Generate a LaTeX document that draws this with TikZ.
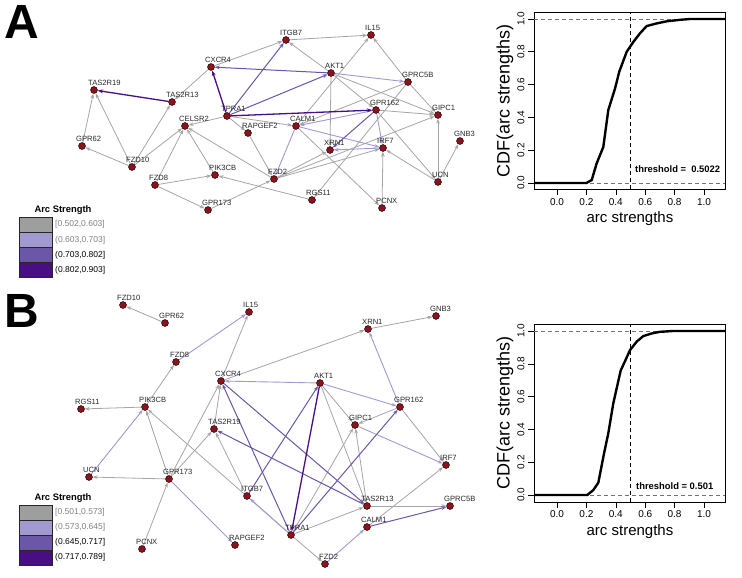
\documentclass[tikz,border=0pt]{standalone}
\usepackage{fontspec}
\setmainfont{Liberation Sans}
\usepackage{graphicx}
\usetikzlibrary{arrows.meta,backgrounds}
\definecolor{genered}{RGB}{140,18,28}
\definecolor{arcgray}{RGB}{165,165,165}
\definecolor{arclav}{RGB}{160,154,208}
\definecolor{arcpurp}{RGB}{108,86,168}
\definecolor{arcdark}{RGB}{72,14,132}
\definecolor{boxgray}{RGB}{158,158,158}
\tikzset{
  gene/.style={circle,draw=black,line width=0.4pt,fill=genered,inner sep=0pt,minimum size=7pt},
  genelbl/.style={anchor=base west,xshift=-6pt,yshift=0.5pt,inner sep=0pt,text=black!85,
    font=\fontsize{7.6}{8}\selectfont},
  arcg/.style={draw=arcgray,line width=0.8pt,-{Stealth[length=5pt,width=3.6pt]}},
  arcl/.style={draw=arclav,line width=0.9pt,-{Stealth[length=5pt,width=3.6pt]}},
  arcp/.style={draw=arcpurp,line width=1.0pt,-{Stealth[length=5pt,width=3.8pt]}},
  arcd/.style={draw=arcdark,line width=1.3pt,-{Stealth[length=5.5pt,width=4pt]}},
  lgbox/.style={draw=black!85,line width=1pt},
  lgtxt/.style={anchor=west,inner sep=0pt,font=\fontsize{8.5}{10}\selectfont},
  lgtitle/.style={inner sep=0pt,font=\bfseries\fontsize{9.4}{11}\selectfont},
  ticklbl/.style={inner sep=0pt,font=\fontsize{10}{11}\selectfont},
  panel/.style={inner sep=0pt,font=\bfseries\fontsize{48}{50}\selectfont}
}
\begin{document}
\begin{tikzpicture}[x=1pt,y=-1pt]
  \useasboundingbox (0,0) rectangle (742,578);

  \node[panel] (A) at (22,22) {A};
  \node[panel] (B) at (22,311) {B};

  % network A
  \node[gene,label={[genelbl]north:TAS2R19}] (aTAS2R19) at (94,90) {};
  \node[gene,label={[genelbl]north:TAS2R13}] (aTAS2R13) at (172,102) {};
  \node[gene,label={[genelbl]north:CXCR4}] (aCXCR4) at (211,67) {};
  \node[gene,label={[genelbl]north:TPRA1}] (aTPRA1) at (227,116) {};
  \node[gene,label={[genelbl]north:CELSR2}] (aCELSR2) at (185,126) {};
  \node[gene,label={[genelbl]north:ITGB7}] (aITGB7) at (286,40) {};
  \node[gene,label={[genelbl]north:IL15}] (aIL15) at (371,35) {};
  \node[gene,label={[genelbl]north:AKT1}] (aAKT1) at (331,73) {};
  \node[gene,label={[genelbl]north:GPRC5B}] (aGPRC5B) at (408,82) {};
  \node[gene,label={[genelbl]north:GPR162}] (aGPR162) at (376,110) {};
  \node[gene,label={[genelbl]north:GIPC1}] (aGIPC1) at (438,115) {};
  \node[gene,label={[genelbl]north:CALM1}] (aCALM1) at (296,126) {};
  \node[gene,label={[genelbl]north:RAPGEF2}] (aRAPGEF2) at (248,133) {};
  \node[gene,label={[genelbl]north:GPR62}] (aGPR62) at (82,146) {};
  \node[gene,label={[genelbl]north:FZD10}] (aFZD10) at (132,167) {};
  \node[gene,label={[genelbl]north:FZD8}] (aFZD8) at (155,185) {};
  \node[gene,label={[genelbl]north:PIK3CB}] (aPIK3CB) at (215,175) {};
  \node[gene,label={[genelbl]north:GPR173}] (aGPR173) at (208,210) {};
  \node[gene,label={[genelbl]north:FZD2}] (aFZD2) at (274,179) {};
  \node[gene,label={[genelbl]north:XRN1}] (aXRN1) at (330,150) {};
  \node[gene,label={[genelbl]north:IRF7}] (aIRF7) at (383,148) {};
  \node[gene,label={[genelbl]north:GNB3}] (aGNB3) at (460,141) {};
  \node[gene,label={[genelbl]north:UCN}] (aUCN) at (438,182) {};
  \node[gene,label={[genelbl]north:RGS11}] (aRGS11) at (312,200) {};
  \node[gene,label={[genelbl]north:PCNX}] (aPCNX) at (382,208) {};

  \begin{pgfonlayer}{background}
    \draw[arcg] (aFZD10) to (aGPR62);
    \draw[arcg] (aGPR62) to (aTAS2R19);
    \draw[arcg] (aFZD10) to (aTAS2R19);
    \draw[arcg] (aFZD10) to (aTAS2R13);
    \draw[arcg] (aFZD10) to (aCELSR2);
    \draw[arcg] (aFZD8) to (aCELSR2);
    \draw[arcg] (aPIK3CB) to (aCELSR2);
    \draw[arcg] (aFZD2) to (aCELSR2);
    \draw[arcg] (aTPRA1) to (aCELSR2);
    \draw[arcg] (aFZD8) to (aPIK3CB);
    \draw[arcg] (aFZD8) to (aGPR173);
    \draw[arcg] (aGPR173) to (aFZD2);
    \draw[arcg] (aRGS11) to (aPIK3CB);
    \draw[arcg] (aCXCR4) to (aTAS2R13);
    \draw[arcg] (aCXCR4) to (aITGB7);
    \draw[arcg] (aITGB7) to (aIL15);
    \draw[arcg] (aAKT1) to (aITGB7);
    \draw[arcg] (aGPRC5B) to (aIL15);
    \draw[arcg] (aCALM1) to (aIL15);
    \draw[arcg] (aTPRA1) to (aRAPGEF2);
    \draw[arcg] (aTPRA1) to (aCALM1);
    \draw[arcg] (aRAPGEF2) to (aFZD2);
    \draw[arcg] (aAKT1) to (aXRN1);
    \draw[arcg] (aAKT1) to (aGIPC1);
    \draw[arcg] (aAKT1) to (aGPR162);
    \draw[arcg] (aGPRC5B) to (aGIPC1);
    \draw[arcg] (aGPRC5B) to (aCALM1);
    \draw[arcg] (aGPRC5B) to (aRGS11);
    \draw[arcg] (aGPR162) to (aGIPC1);
    \draw[arcg] (aGPR162) to (aUCN);
    \draw[arcg] (aUCN) to (aGIPC1);
    \draw[arcg] (aUCN) to (aGNB3);
    \draw[arcg] (aUCN) to (aIRF7);
    \draw[arcg] (aPCNX) to (aIRF7);
    \draw[arcg] (aCALM1) to (aPCNX);
    \draw[arcg] (aFZD2) to (aXRN1);
    \draw[arcg] (aFZD2) to (aIRF7);
    \draw[arcg] (aFZD2) to (aGIPC1);
    \draw[arcl] (aAKT1) to (aGPRC5B);
    \draw[arcl] (aGPR162) to (aCALM1);
    \draw[arcl] (aCALM1) to (aIRF7);
    \draw[arcl] (aIRF7) to (aXRN1);
    \draw[arcl] (aCALM1) to (aFZD2);
    \draw[arcl] (aGPR162) to (aIRF7);
    \draw[arcp] (aAKT1) to (aCXCR4);
    \draw[arcp] (aTPRA1) to (aITGB7);
    \draw[arcp] (aTPRA1) to (aAKT1);
    \draw[arcp] (aGPR162) to (aXRN1);
    \draw[arcd] (aTAS2R13) to (aTAS2R19);
    \draw[arcd] (aTPRA1) to (aCXCR4);
    \draw[arcd] (aTPRA1) to (aGPR162);
  \end{pgfonlayer}

  % legend A
  \node[lgtitle] (legA) at (63,210) {Arc Strength};
  \draw[lgbox,fill=boxgray] (19,217) rectangle (52,232);
  \draw[lgbox,fill=arclav] (19,232) rectangle (52,247);
  \draw[lgbox,fill=arcpurp] (19,247) rectangle (52,262);
  \draw[lgbox,fill=arcdark] (19,262) rectangle (52,277);
  \node[lgtxt,text=black!50] (legA1) at (55,224) {[0.502,0.603]};
  \node[lgtxt,text=black!50] (legA2) at (55,240) {(0.603,0.703]};
  \node[lgtxt] (legA3) at (55,255) {(0.703,0.802]};
  \node[lgtxt] (legA4) at (55,270) {(0.802,0.903]};

  % network B
  \node[gene,label={[genelbl]north:FZD10}] (bFZD10) at (123,305) {};
  \node[gene,label={[genelbl]north:GPR62}] (bGPR62) at (165,323) {};
  \node[gene,label={[genelbl]north:IL15}] (bIL15) at (249,312) {};
  \node[gene,label={[genelbl]north:FZD8}] (bFZD8) at (176,362) {};
  \node[gene,label={[genelbl]north:CXCR4}] (bCXCR4) at (221,381) {};
  \node[gene,label={[genelbl]north:PIK3CB}] (bPIK3CB) at (145,407) {};
  \node[gene,label={[genelbl]north:RGS11}] (bRGS11) at (81,409) {};
  \node[gene,label={[genelbl]north:AKT1}] (bAKT1) at (320,383) {};
  \node[gene,label={[genelbl]north:XRN1}] (bXRN1) at (368,329) {};
  \node[gene,label={[genelbl]north:GNB3}] (bGNB3) at (436,316) {};
  \node[gene,label={[genelbl]north:GPR162}] (bGPR162) at (400,407) {};
  \node[gene,label={[genelbl]north:GIPC1}] (bGIPC1) at (355,425) {};
  \node[gene,label={[genelbl]north:IRF7}] (bIRF7) at (446,465) {};
  \node[gene,label={[genelbl]north:TAS2R13}] (bTAS2R13) at (367,506) {};
  \node[gene,label={[genelbl]north:GPRC5B}] (bGPRC5B) at (450,506) {};
  \node[gene,label={[genelbl]north:CALM1}] (bCALM1) at (367,527) {};
  \node[gene,label={[genelbl]north:FZD2}] (bFZD2) at (325,564) {};
  \node[gene,label={[genelbl]north:TPRA1}] (bTPRA1) at (291,535) {};
  \node[gene,label={[genelbl]north:TAS2R19}] (bTAS2R19) at (214,429) {};
  \node[gene,label={[genelbl]north:GPR173}] (bGPR173) at (169,479) {};
  \node[gene,label={[genelbl]north:ITGB7}] (bITGB7) at (247,496) {};
  \node[gene,label={[genelbl]north:PCNX}] (bPCNX) at (142,549) {};
  \node[gene,label={[genelbl]north:RAPGEF2}] (bRAPGEF2) at (235,545) {};
  \node[gene,label={[genelbl]north:UCN}] (bUCN) at (89,477) {};

  \begin{pgfonlayer}{background}
    \draw[arcg] (bGPR62) to (bFZD10);
    \draw[arcg] (bCXCR4) to (bIL15);
    \draw[arcg] (bPIK3CB) to (bFZD8);
    \draw[arcg] (bPIK3CB) to (bRGS11);
    \draw[arcg] (bCXCR4) to (bXRN1);
    \draw[arcg] (bXRN1) to (bGNB3);
    \draw[arcg] (bGPR173) to (bPIK3CB);
    \draw[arcg] (bGPR173) to (bCXCR4);
    \draw[arcg] (bGPR173) to (bTAS2R19);
    \draw[arcg] (bGPR173) to (bUCN);
    \draw[arcg] (bPCNX) to (bGPR173);
    \draw[arcg] (bITGB7) to (bTAS2R19);
    \draw[arcg] (bTAS2R19) to (bCXCR4);
    \draw[arcg] (bTPRA1) to (bPIK3CB);
    \draw[arcg] (bTPRA1) to (bFZD2);
    \draw[arcg] (bTPRA1) to (bTAS2R13);
    \draw[arcg] (bTPRA1) to (bGIPC1);
    \draw[arcg] (bTAS2R13) to (bGIPC1);
    \draw[arcg] (bTAS2R13) to (bGPRC5B);
    \draw[arcg] (bGPR162) to (bGIPC1);
    \draw[arcg] (bGPR162) to (bIRF7);
    \draw[arcg] (bCALM1) to (bIRF7);
    \draw[arcg] (bAKT1) to (bTAS2R13);
    \draw[arcg] (bAKT1) to (bGIPC1);
    \draw[arcl] (bFZD8) to (bIL15);
    \draw[arcl] (bAKT1) to (bCXCR4);
    \draw[arcl] (bGPR162) to (bXRN1);
    \draw[arcl] (bAKT1) to (bGPR162);
    \draw[arcl] (bUCN) to (bPIK3CB);
    \draw[arcl] (bGPR173) to (bRAPGEF2);
    \draw[arcl] (bTPRA1) to (bITGB7);
    \draw[arcl] (bGIPC1) to (bIRF7);
    \draw[arcl] (bFZD2) to (bCALM1);
    \draw[arcp] (bITGB7) to (bAKT1);
    \draw[arcp] (bTPRA1) to (bCXCR4);
    \draw[arcp] (bCXCR4) to (bTAS2R13);
    \draw[arcp] (bTAS2R13) to (bTAS2R19);
    \draw[arcp] (bTPRA1) to (bGPR162);
    \draw[arcp] (bCALM1) to (bGPRC5B);
    \draw[arcd] (bAKT1) to (bTPRA1);
  \end{pgfonlayer}

  % legend B
  \node[lgtitle] (legB) at (63,498) {Arc Strength};
  \draw[lgbox,fill=boxgray] (19,505) rectangle (52,520);
  \draw[lgbox,fill=arclav] (19,520) rectangle (52,535);
  \draw[lgbox,fill=arcpurp] (19,535) rectangle (52,550);
  \draw[lgbox,fill=arcdark] (19,550) rectangle (52,565);
  \node[lgtxt,text=black!50] (legB1) at (55,512) {[0.501,0.573]};
  \node[lgtxt,text=black!50] (legB2) at (55,527) {(0.573,0.645]};
  \node[lgtxt] (legB3) at (55,542) {(0.645,0.717]};
  \node[lgtxt] (legB4) at (55,557) {(0.717,0.789]};

  % CDF A
  \draw[black,line width=0.8pt] (534,12) rectangle (725,189);
  \foreach \k/\t in {0/0.0,1/0.2,2/0.4,3/0.6,4/0.8,5/1.0} {
    \draw[line width=0.6pt] (557+29.4*\k,189) -- (557+29.4*\k,195);
    \node[ticklbl] at (557+29.4*\k,202) {\t};
    \draw[line width=0.6pt] (534,183-32.8*\k) -- (528,183-32.8*\k);
    \node[ticklbl,rotate=90] at (521,183-32.8*\k) {\t};
  }
  \node[inner sep=0pt,font=\fontsize{15}{17}\selectfont] (xlabA) at (630,219) {arc strengths};
  \node[inner sep=0pt,rotate=90,font=\fontsize{18}{20}\selectfont] (ylabA) at (505,101) {CDF(arc strengths)};
  \begin{scope}[shift={(557,183)},x=147pt,y=164pt]
    \draw[black!55,line width=0.7pt,dash pattern=on 4pt off 3pt] (-0.156,0) -- (1.143,0);
    \draw[black!55,line width=0.7pt,dash pattern=on 4pt off 3pt] (-0.156,1) -- (1.143,1);
    \draw[black,line width=0.7pt,dash pattern=on 4pt off 3pt] (0.5022,-0.037) -- (0.5022,1.04);
    \draw[black,line width=2.4pt,line join=round] plot coordinates {(-0.156,0) (0.2,0) (0.236,0.018)
      (0.27,0.12) (0.315,0.22) (0.349,0.445) (0.395,0.577) (0.424,0.68) (0.474,0.8) (0.519,0.86)
      (0.565,0.913) (0.61,0.957) (0.678,0.973) (0.746,0.986) (0.837,0.995) (0.905,1) (1.143,1)};
  \end{scope}
  \node[anchor=west,inner sep=0pt,font=\bfseries\fontsize{9.4}{11}\selectfont] (thrA) at (635,169) {threshold =\ \ 0.5022};

  % CDF B
  \draw[black,line width=0.8pt] (534,324) rectangle (725,502);
  \foreach \k/\t in {0/0.0,1/0.2,2/0.4,3/0.6,4/0.8,5/1.0} {
    \draw[line width=0.6pt] (557+29.4*\k,502) -- (557+29.4*\k,508);
    \node[ticklbl] at (557+29.4*\k,514) {\t};
    \draw[line width=0.6pt] (534,495-32.8*\k) -- (528,495-32.8*\k);
    \node[ticklbl,rotate=90] at (521,495-32.8*\k) {\t};
  }
  \node[inner sep=0pt,font=\fontsize{15}{17}\selectfont] (xlabB) at (630,532) {arc strengths};
  \node[inner sep=0pt,rotate=90,font=\fontsize{18}{20}\selectfont] (ylabB) at (505,413) {CDF(arc strengths)};
  \begin{scope}[shift={(557,495)},x=147pt,y=164pt]
    \draw[black!55,line width=0.7pt,dash pattern=on 4pt off 3pt] (-0.156,0) -- (1.143,0);
    \draw[black!55,line width=0.7pt,dash pattern=on 4pt off 3pt] (-0.156,1) -- (1.143,1);
    \draw[black,line width=0.7pt,dash pattern=on 4pt off 3pt] (0.501,-0.043) -- (0.501,1.04);
    \draw[black,line width=2.4pt,line join=round] plot coordinates {(-0.156,0) (0.206,0) (0.247,0.03)
      (0.281,0.075) (0.32,0.254) (0.349,0.376) (0.383,0.559) (0.433,0.758) (0.497,0.884)
      (0.542,0.935) (0.587,0.969) (0.644,0.985) (0.7,0.995) (0.79,1) (1.143,1)};
  \end{scope}
  \node[anchor=west,inner sep=0pt,font=\bfseries\fontsize{9.4}{11}\selectfont] (thrB) at (636,486) {threshold = 0.501};
\end{tikzpicture}
\end{document}
